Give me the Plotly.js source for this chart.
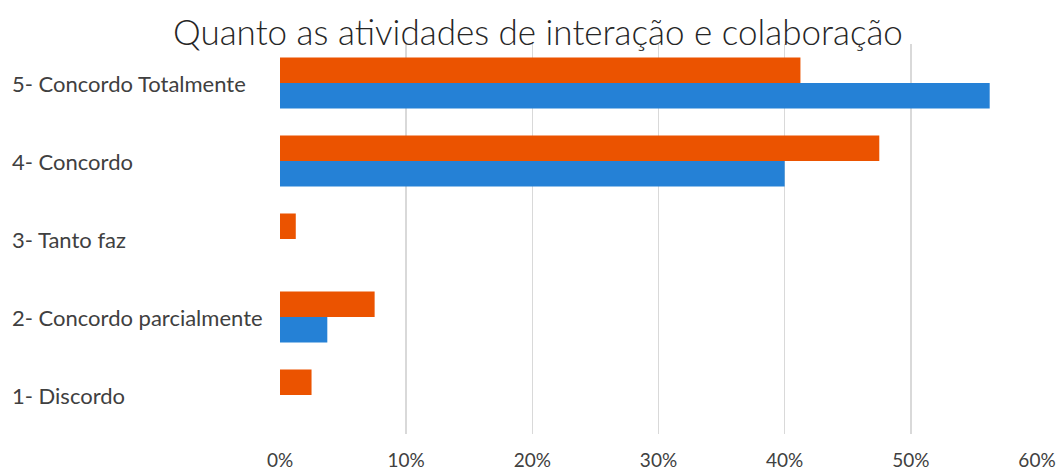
<!DOCTYPE html>
<html>
<head>
<meta charset="utf-8">
<script src="https://cdn.plot.ly/plotly-3.0.1.min.js"></script>
<style>
  html, body { margin: 0; padding: 0; background: #fff; }
  #chart { width: 1059px; height: 472px; }
</style>
</head>
<body>
<div id="chart"></div>
<script>
const categories = ["1- Discordo", "2- Concordo parcialmente", "3- Tanto faz", "4- Concordo", "5- Concordo Totalmente"];
const seriesBlue = [0, 0.0375, 0, 0.40, 0.5625];
const seriesOrange = [0.025, 0.075, 0.0125, 0.475, 0.4125];
const xTickVals = [0, 0.1, 0.2, 0.3, 0.4, 0.5, 0.6];
const xTickText = ["0%", "10%", "20%", "30%", "40%", "50%", "60%"];
const titleText = "Quanto as atividades de interação e colaboração";

const FONT = "Lato, 'Open Sans', sans-serif";

const traces = [
  { type: "bar", orientation: "h", name: "Série azul", y: categories, x: seriesBlue,
    marker: { color: "#2581d6" }, hoverinfo: "x+y" },
  { type: "bar", orientation: "h", name: "Série laranja", y: categories, x: seriesOrange,
    marker: { color: "#eb5300" }, hoverinfo: "x+y" }
];

const annotations = categories.map(c => ({
  xref: "paper", yref: "y", x: -270 / 757, y: c, xanchor: "left", yanchor: "middle",
  text: c, showarrow: false, font: { family: FONT, size: 22, color: "#404040" }
}));

const layout = {
  width: 1059, height: 472,
  margin: { l: 280, r: 22, t: 44, b: 38 },
  paper_bgcolor: "#fff", plot_bgcolor: "#fff",
  barmode: "group", bargap: 0.346, bargroupgap: 0,
  showlegend: false,
  title: { text: titleText, x: 0.508, xanchor: "center", y: 0.93, yanchor: "middle", xref: "container", yref: "container",
           font: { family: FONT, size: 35, color: "#262626", weight: 300 } },
  xaxis: { range: [0, 0.6], tickvals: xTickVals, ticktext: xTickText, showgrid: true,
           gridcolor: "#d9d9d9", gridwidth: 1.5, zeroline: false, showline: false, ticks: "",
           ticklabelstandoff: 13,
           tickfont: { family: FONT, size: 19, color: "#404040" }, fixedrange: true },
  yaxis: { type: "category", categoryorder: "array", categoryarray: categories,
           showticklabels: false, showgrid: false, zeroline: false, showline: false, ticks: "",
           range: [-0.5, 4.5], fixedrange: true },
  annotations: annotations
};

Plotly.newPlot("chart", traces, layout, { displayModeBar: false, staticPlot: true });
</script>
</body>
</html>
